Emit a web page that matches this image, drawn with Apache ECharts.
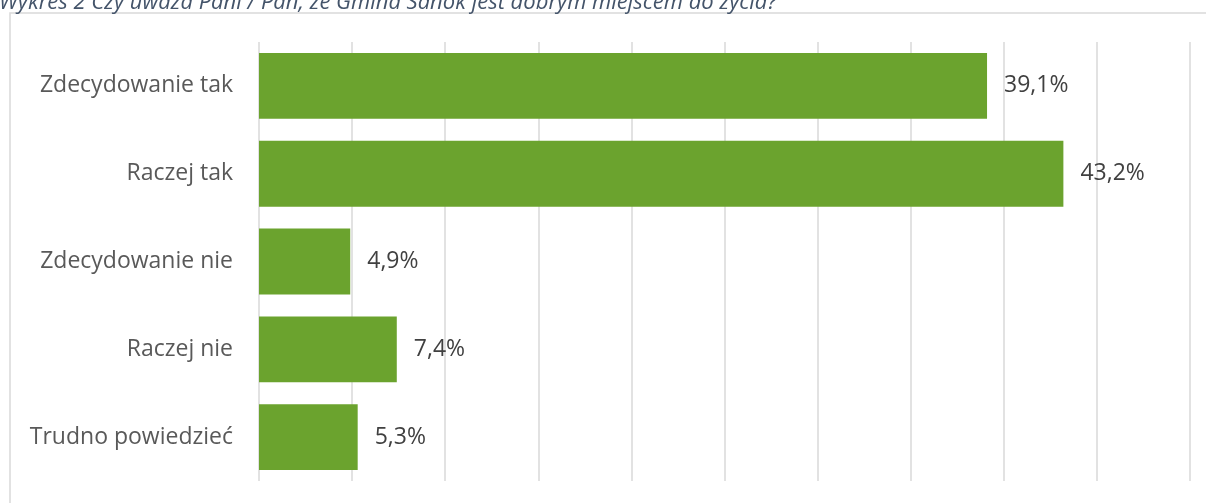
<!DOCTYPE html>
<html>
<head>
<meta charset="utf-8">
<script src="https://cdn.jsdelivr.net/npm/echarts@6/dist/echarts.min.js"></script>
<style>
  html, body { margin: 0; padding: 0; background: #fff; }
  #chart { width: 1206px; height: 503px; }
</style>
</head>
<body>
<div id="chart"></div>
<script>
// Survey answers, top to bottom
const categories = ['Zdecydowanie tak', 'Raczej tak', 'Zdecydowanie nie', 'Raczej nie', 'Trudno powiedzieć'];
const shares = [39.1, 43.2, 4.9, 7.4, 5.3];
const titleText = 'Wykres 2 Czy uważa Pani / Pan, że Gmina Sanok jest dobrym miejscem do życia?';

const font = '"Open Sans", "Noto Sans", sans-serif';
const chart = echarts.init(document.getElementById('chart'), null, { renderer: 'canvas' });

chart.setOption({
  animation: false,
  backgroundColor: '#ffffff',
  graphic: [
    {
      type: 'rect',
      shape: { x: 10, y: 13, width: 1220, height: 520 },
      style: { fill: 'none', stroke: '#d9d9d9', lineWidth: 1.5 },
      silent: true
    },
    {
      type: 'text',
      left: -1,
      top: -8,
      style: {
        text: titleText,
        font: 'italic 22px ' + font,
        fill: '#44546a'
      },
      silent: true
    }
  ],
  grid: { left: 259, right: 16, top: 42, bottom: 22, containLabel: false },
  xAxis: {
    type: 'value',
    min: 0,
    max: 50,
    interval: 5,
    axisLabel: { show: false },
    axisLine: { show: false },
    axisTick: { show: false },
    splitLine: { show: true, lineStyle: { color: '#d9d9d9', width: 1.5 } }
  },
  yAxis: {
    type: 'category',
    inverse: true,
    data: categories,
    axisLine: { show: false },
    axisTick: { show: false },
    axisLabel: {
      margin: 26,
      color: '#595959',
      fontFamily: font,
      fontSize: 23
    }
  },
  series: [{
    type: 'bar',
    data: shares,
    barCategoryGap: '25%',
    itemStyle: { color: '#6ba32e' },
    label: {
      show: true,
      position: 'right',
      distance: 17,
      color: '#404040',
      fontFamily: font,
      fontSize: 23,
      formatter: p => p.value.toFixed(1).replace('.', ',') + '%'
    }
  }]
});
</script>
</body>
</html>
